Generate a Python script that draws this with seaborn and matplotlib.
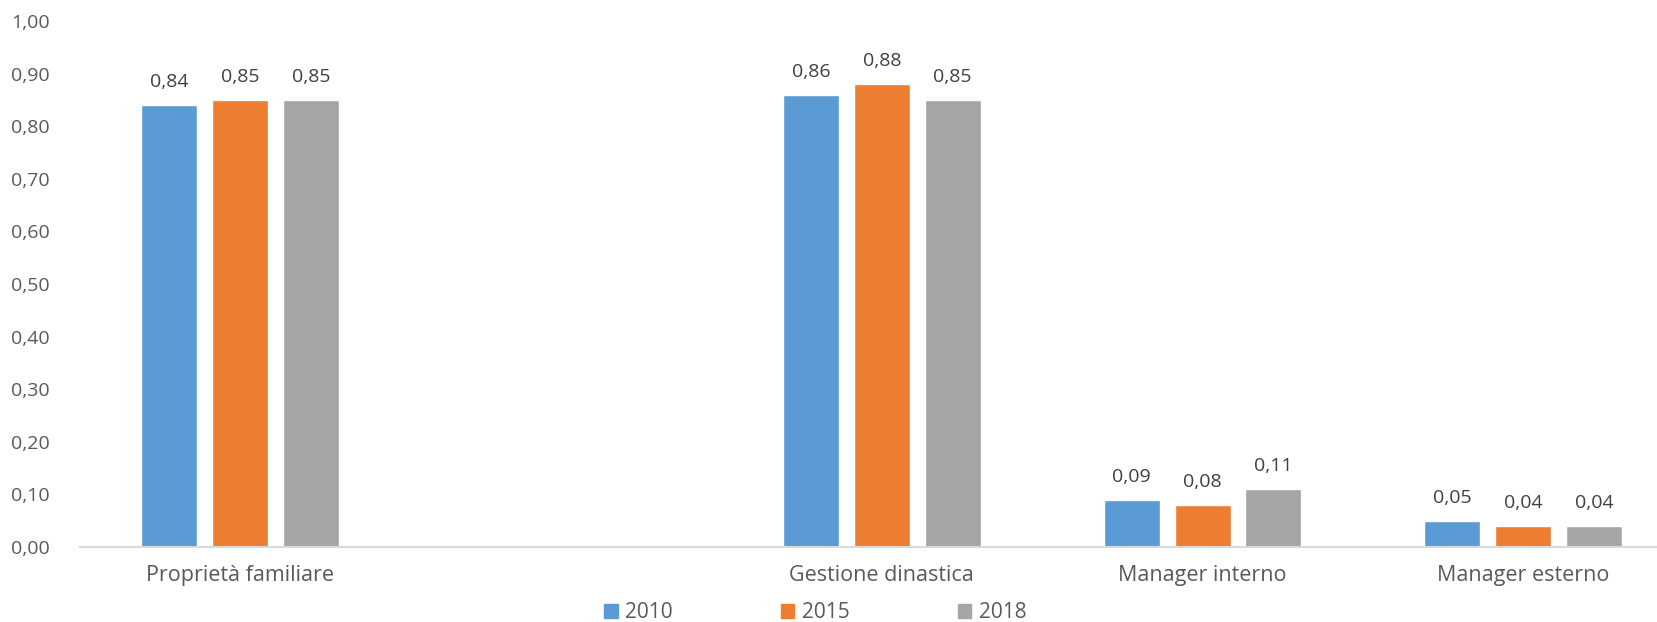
import matplotlib
matplotlib.use("Agg")
import matplotlib.pyplot as plt
import pandas as pd
import seaborn as sns

# categories (the blank one is the empty slot in the original Excel chart)
categories = ["Proprietà familiare", " ", "Gestione dinastica", "Manager interno", "Manager esterno"]
years = ["2010", "2015", "2018"]
values_2010 = [0.84, None, 0.86, 0.09, 0.05]
values_2015 = [0.85, None, 0.88, 0.08, 0.04]
values_2018 = [0.85, None, 0.85, 0.11, 0.04]
yticks = [0.0, 0.1, 0.2, 0.3, 0.4, 0.5, 0.6, 0.7, 0.8, 0.9, 1.0]

colors = ["#5B9BD5", "#ED7D31", "#A5A5A5"]
textColor = "#595959"

rows = []
for year, vals in zip(years, [values_2010, values_2015, values_2018]):
    for cat, v in zip(categories, vals):
        if v is not None:
            rows.append({"Categoria": cat, "Anno": year, "Valore": v})
df = pd.DataFrame(rows)

sns.set_theme(style="white")
plt.rcParams["font.family"] = ["Open Sans", "DejaVu Sans"]

fig = plt.figure(figsize=(16.58, 6.22), dpi=100)
ax = fig.add_axes([80 / 1658, 75 / 622, 1 - 80 / 1658, 526 / 622])

sns.barplot(data=df, x="Categoria", y="Valore", hue="Anno", order=categories, hue_order=years,
            palette=colors, width=0.663, gap=0.21, saturation=1, errorbar=None, ax=ax, legend=True)

for cont in ax.containers:
    ax.bar_label(cont, labels=[f"{b.get_height():.2f}".replace(".", ",") for b in cont],
                 padding=10, fontsize=14, color="#404040")

ax.set_xlim(-0.5, 4.42)
ax.set_ylim(0, 1.0)
ax.set_yticks(yticks)
ax.set_yticklabels([f"{t:.2f}".replace(".", ",") for t in yticks])
ax.set_xlabel("")
ax.set_ylabel("")
ax.tick_params(axis="y", length=0, pad=22, labelsize=14, labelcolor=textColor)
ax.tick_params(axis="x", length=0, pad=13, labelsize=15.5, labelcolor=textColor)
for s in ["top", "right", "left"]:
    ax.spines[s].set_visible(False)
ax.spines["bottom"].set_color("#D9D9D9")
ax.spines["bottom"].set_linewidth(1.5)

ax.legend_.remove()
handles = [plt.Rectangle((0, 0), 1, 1, color=c) for c in colors]
leg = fig.legend(handles, years, loc="center", bbox_to_anchor=(0.4916, 9 / 622), ncol=3, frameon=False,
                 fontsize=15, handlelength=0.65, handleheight=0.65, handletextpad=0.35, columnspacing=5.2,
                 borderpad=0)
for t in leg.get_texts():
    t.set_color(textColor)

fig.savefig("out.png", dpi=100)
